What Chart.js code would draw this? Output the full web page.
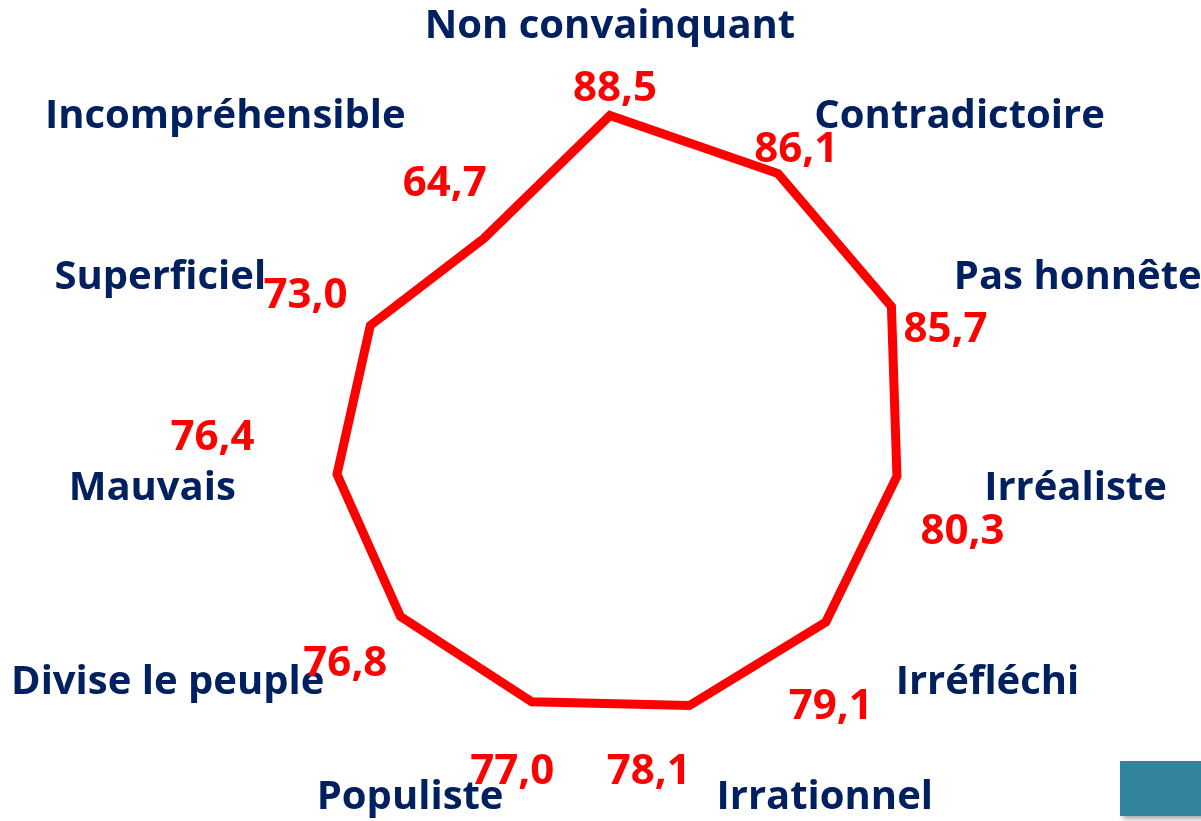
<!DOCTYPE html>
<html>
<head>
<meta charset="utf-8">
<script src="https://cdn.jsdelivr.net/npm/chart.js@4"></script>
<style>
    body { margin: 0; background: #fff; }
    #wrap { position: relative; width: 1201px; height: 821px; overflow: hidden; }
    #deco {
        position: absolute; left: 1120px; top: 761px; width: 90px; height: 55px;
        background: #31849B; box-shadow: 3px 3px 5px rgba(0, 0, 0, 0.35);
    }
</style>
</head>
<body>
<div id="wrap">
    <canvas id="radar" width="1201" height="821"></canvas>
    <div id="deco"></div>
</div>
<script>
const categories = [
    'Non convainquant',
    'Contradictoire',
    'Pas honnête',
    'Irréaliste',
    'Irréfléchi',
    'Irrationnel',
    'Populiste',
    'Divise le peuple',
    'Mauvais',
    'Superficiel',
    'Incompréhensible',
];

const values = [88.5, 86.1, 85.7, 80.3, 79.1, 78.1, 77.0, 76.8, 76.4, 73.0, 64.7];

const scaleMin = 0;
const scaleMax = 100;

// the value labels were moved by hand on the original, so small shifts (px)
const valueNudge = [
    [5, 4], [-3, 10], [17, 40], [6, 47], [-44, 43], [-60, 1],
    [1, 1], [0, 0], [-51, -47], [14, 6], [24, 44]
];

// writes the category names and the values round the polygon
const labelPlugin = {
    id: 'labelPlugin',
    afterDatasetsDraw(chart) {
        const scale = chart.scales.r;
        const ctx = chart.ctx;
        const cx = scale.xCenter;
        ctx.save();

        // category names
        ctx.font = 'bold 40px "Open Sans"';
        ctx.fillStyle = '#002060';
        ctx.textBaseline = 'middle';
        const nameRing = scale.drawingArea + 17;
        categories.forEach((c, i) => {
            let p = scale.getPointPosition(i, nameRing);
            if (Math.abs(p.x - cx) < 2) {
                ctx.textAlign = 'center';
                p = scale.getPointPosition(i, nameRing + 30);
            } else {
                ctx.textAlign = p.x > cx ? 'left' : 'right';
            }
            ctx.fillText(c, p.x, p.y);
        });

        // values, on a ring a bit outside the line
        ctx.font = 'bold 42px "Open Sans"';
        ctx.fillStyle = '#FF0000';
        ctx.textAlign = 'center';
        ctx.textBaseline = 'middle';
        const valueRing = scale.getDistanceFromCenterForValue(97);
        values.forEach((v, i) => {
            const p = scale.getPointPosition(i, valueRing);
            const n = valueNudge[i];
            ctx.fillText(v.toFixed(1).replace('.', ','), p.x + n[0], p.y + n[1]);
        });
        ctx.restore();
    }
};

const data = {
    labels: categories,
    datasets: [{
        label: 'Image',
        data: values,
        borderColor: '#FF0000',
        borderWidth: 9,
        borderJoinStyle: 'miter',
        fill: false,
        pointRadius: 0,
        pointHoverRadius: 0,
        tension: 0
    }]
};

const config = {
    type: 'radar',
    data: data,
    options: {
        responsive: false,
        animation: false,
        layout: {
            padding: {left: 19, right: 0, top: 74, bottom: 25}
        },
        plugins: {
            legend: {display: false},
            tooltip: {enabled: false}
        },
        scales: {
            r: {
                min: scaleMin,
                max: scaleMax,
                grid: {display: false},
                angleLines: {display: false},
                ticks: {display: false},
                pointLabels: {display: false}
            }
        }
    },
    plugins: [labelPlugin]
};

const radarChart = new Chart(document.getElementById('radar'), config);
</script>
</body>
</html>
